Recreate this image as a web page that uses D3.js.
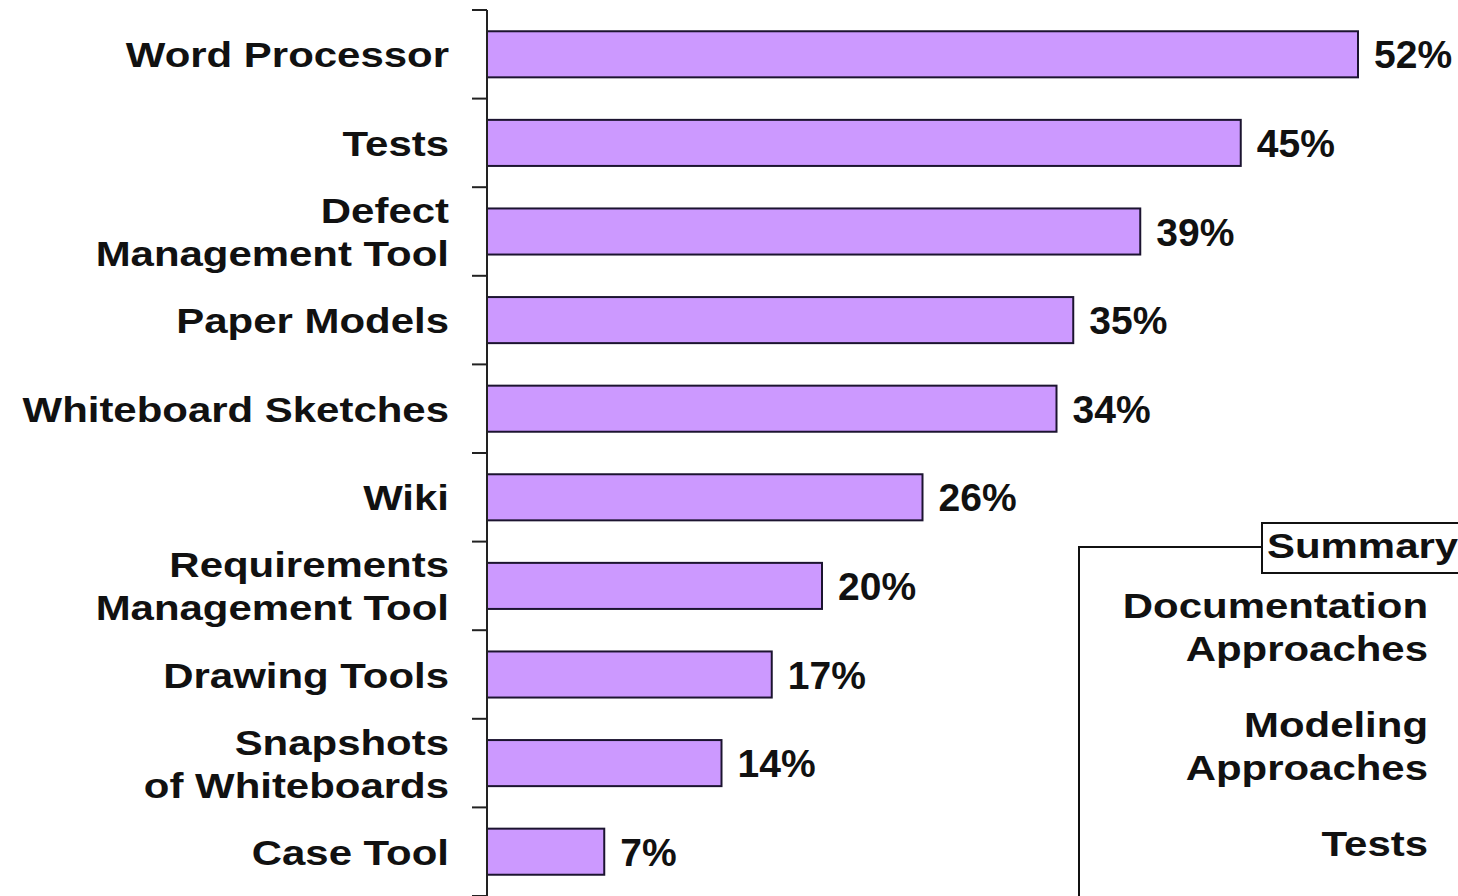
<!DOCTYPE html>
<html>
<head>
<meta charset="utf-8">
<script src="https://cdn.jsdelivr.net/npm/d3@7"></script>
<style>
  html, body { margin: 0; padding: 0; background: #fff; }
  svg { display: block; }
  text { font-family: "Liberation Sans", Arial, sans-serif; font-weight: bold; fill: #111; }
</style>
</head>
<body>
<div id="chart"></div>
<script>

// categories, top to bottom ("|" splits a label onto two lines)
var categories = [
  "Word Processor",
  "Tests",
  "Defect|Management Tool",
  "Paper Models",
  "Whiteboard Sketches",
  "Wiki",
  "Requirements|Management Tool",
  "Drawing Tools",
  "Snapshots|of Whiteboards",
  "Case Tool"
];

// percent of respondents
var values = [52, 45, 39, 35, 34, 26, 20, 17, 14, 7];

var legendTitle = "Summary";
var legendItems = [
  ["Documentation", "Approaches"],
  ["Modeling", "Approaches"],
  ["Tests"]
];

var width = 1458,
  height = 896,
  axisX = 487,
  stretch = 1.165; // the category text in the picture is wide

var data = categories.map(function(c, i) { return {name: c, value: values[i]}; });

var svg = d3.select("#chart").append("svg")
  .attr("width", width)
  .attr("height", height);

var xScale = d3.scaleLinear()
  .domain([0, 52])
  .range([axisX, 1358]);

var yScale = d3.scaleBand()
  .domain(categories)
  .range([10, 896])
  .paddingInner(0.48)
  .paddingOuter(0.24);

var step = yScale.step(),
  gap = step - yScale.bandwidth();

// bars
svg.selectAll(".bar")
  .data(data)
  .enter().append("rect")
    .attr("class", "bar")
    .attr("x", xScale(0))
    .attr("y", function(d) { return yScale(d.name); })
    .attr("width", function(d) { return xScale(d.value) - xScale(0); })
    .attr("height", yScale.bandwidth())
    .attr("fill", "#CC99FF")
    .attr("stroke", "#1c1430")
    .attr("stroke-width", 2);

// axis line and ticks sit between the bars
var bounds = categories.map(function(c) { return yScale(c) - gap / 2; });
bounds.push(bounds[bounds.length - 1] + step);

var axis = svg.append("g").attr("class", "y axis");
axis.append("line")
  .attr("x1", axisX).attr("x2", axisX)
  .attr("y1", bounds[0]).attr("y2", height)
  .attr("stroke", "#222").attr("stroke-width", 2);
axis.selectAll(".tick")
  .data(bounds)
  .enter().append("line")
    .attr("class", "tick")
    .attr("x1", axisX - 15).attr("x2", axisX)
    .attr("y1", function(d) { return d; })
    .attr("y2", function(d) { return d; })
    .attr("stroke", "#222").attr("stroke-width", 2);

// category labels
var lineH = 43;
var labels = svg.selectAll(".cat")
  .data(data)
  .enter().append("g")
    .attr("class", "cat")
    .attr("transform", function(d) {
      var cy = yScale(d.name) + yScale.bandwidth() / 2;
      return "translate(449," + cy + ") scale(" + stretch + ",1)";
    });

labels.each(function(d) {
  var lines = d.name.split("|");
  var g = d3.select(this);
  lines.forEach(function(l, i) {
    g.append("text")
      .attr("y", 13 + (i - (lines.length - 1) / 2) * lineH)
      .attr("text-anchor", "end")
      .style("font-size", "36px")
      .text(l);
  });
});

// value labels
svg.selectAll(".val")
  .data(data)
  .enter().append("text")
    .attr("class", "val")
    .attr("x", function(d) { return xScale(d.value) + 16; })
    .attr("y", function(d) { return yScale(d.name) + yScale.bandwidth() / 2 + 14; })
    .style("font-size", "39px")
    .text(function(d) { return d.value + "%"; });

// summary legend
var legend = svg.append("g").attr("class", "legend");
legend.append("path")
  .attr("d", "M1079," + height + "V547H1262")
  .attr("fill", "none")
  .attr("stroke", "#111")
  .attr("stroke-width", 2);
legend.append("rect")
  .attr("x", 1262).attr("y", 523)
  .attr("width", 220).attr("height", 50)
  .attr("fill", "#fff")
  .attr("stroke", "#111")
  .attr("stroke-width", 2);
legend.append("g")
  .attr("transform", "translate(1267,558) scale(" + stretch + ",1)")
  .append("text")
    .style("font-size", "36px")
    .text(legendTitle);

var ly = 618;
legendItems.forEach(function(item) {
  item.forEach(function(l) {
    legend.append("g")
      .attr("transform", "translate(1428," + ly + ") scale(" + stretch + ",1)")
      .append("text")
        .attr("text-anchor", "end")
        .style("font-size", "36px")
        .text(l);
    ly += 43;
  });
  ly += 33;
});

</script>
</body>
</html>
